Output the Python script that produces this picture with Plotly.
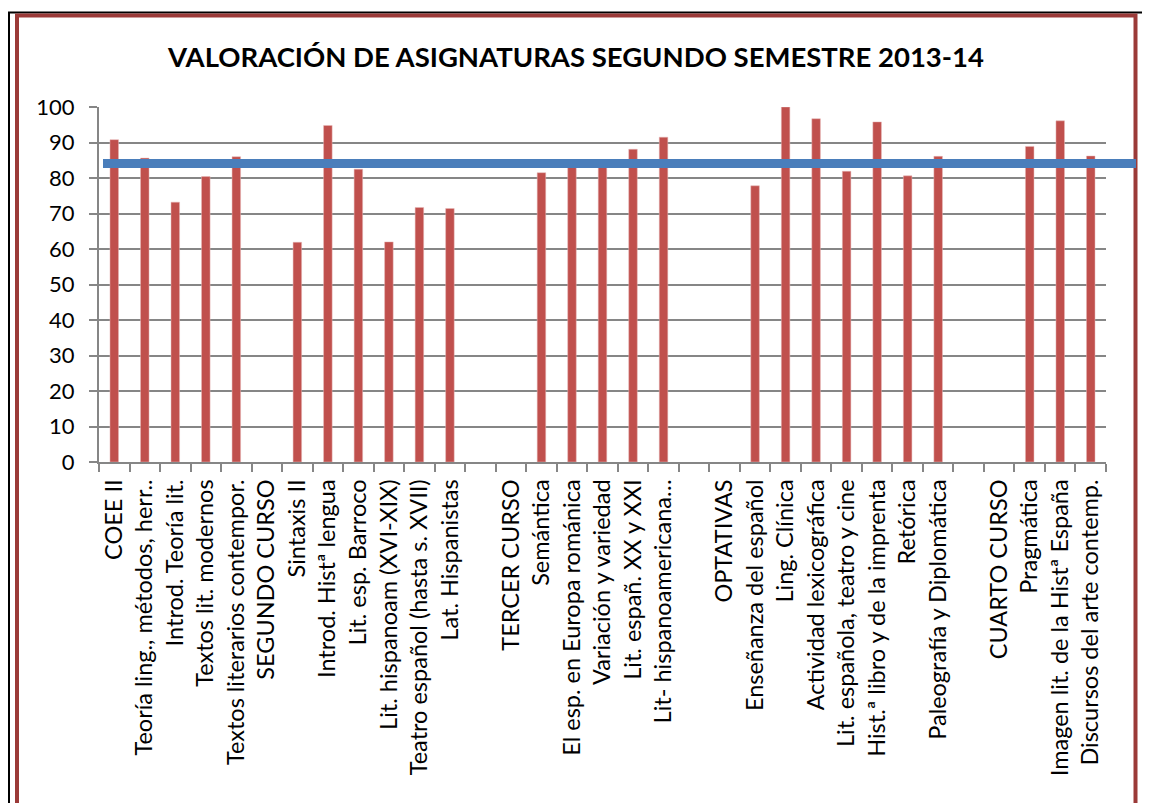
import plotly.graph_objects as go

asignaturas = [
    "COEE II", "Teoría ling., métodos, herr..", "Introd. Teoría lit.", "Textos lit. modernos",
    "Textos literarios contempor.", "SEGUNDO CURSO", "Sintaxis II", "Introd. Histª lengua",
    "Lit. esp. Barroco", "Lit. hispanoam (XVI-XIX)", "Teatro español (hasta s. XVII)",
    "Lat. Hispanistas", " ", "TERCER CURSO", "Semántica", "El esp. en Europa románica",
    "Variación y variedad", "Lit. españ. XX y XXI", "Lit- hispanoamericana…", "  ",
    "OPTATIVAS", "Enseñanza del español", "Ling. Clínica", "Actividad lexicográfica",
    "Lit. española, teatro y cine", "Hist.ª libro y de la imprenta", "Retórica",
    "Paleografía y Diplomática", "   ", "CUARTO CURSO", "Pragmática",
    "Imagen lit. de la Histª España", "Discursos del arte contemp.",
]
valoracion = [
    90.8, 85.6, 73.2, 80.4, 86.0, None, 61.9, 94.8, 82.5, 62.0, 71.7, 71.4, None, None,
    81.5, 84.0, 84.0, 88.1, 91.5, None, None, 77.8, 100.0, 96.7, 81.9, 95.8, 80.6, 86.1,
    None, None, 88.9, 96.1, 86.2,
]
media = 84.1

# la pagina html deja 8px de margen en el body
OFF = 8
W, H = 1150 - OFF, 803 - OFF
L, R, T, B = 99 - OFF, 1106 - OFF, 107 - OFF, 462 - OFF


def px_x(p):
    return (p - OFF - L) / (R - L)


def px_y(p):
    return (B - (p - OFF)) / (B - T)


fig = go.Figure()
fig.add_trace(go.Bar(x=asignaturas, y=valoracion, marker_color="#C0504D",
                     marker_line=dict(color="#E6B9B8", width=0.5)))

# marco negro y borde rojo
fig.add_shape(type="rect", xref="paper", yref="paper", x0=px_x(9), x1=px_x(1170),
              y0=px_y(830), y1=px_y(12.5), line=dict(color="black", width=2))
fig.add_shape(type="rect", xref="paper", yref="paper", x0=px_x(17), x1=px_x(1135.5),
              y0=px_y(840), y1=px_y(15.5), line=dict(color="#9B3A38", width=4))
# linea de la media
fig.add_shape(type="line", xref="paper", yref="y", x0=px_x(103), x1=px_x(1136),
              y0=media, y1=media, line=dict(color="#4A7EBB", width=9))

fig.update_layout(
    width=W, height=H,
    margin=dict(l=L, r=W - R, t=T, b=H - B, pad=0),
    plot_bgcolor="white", paper_bgcolor="white",
    bargap=0.72, showlegend=False,
    font=dict(family="Lato", color="black"),
    title=dict(text="<b>VALORACIÓN DE ASIGNATURAS SEGUNDO SEMESTRE 2013-14</b>",
               x=(576 - OFF) / W, xanchor="center", y=1 - (57 - OFF) / H, yanchor="middle",
               font=dict(family="Lato", size=27.5, color="black")),
)
fig.update_xaxes(type="category", tickangle=-90, tickson="boundaries", ticks="outside",
                 ticklen=8, tickwidth=2, tickcolor="#868686", showline=True,
                 linecolor="#868686", linewidth=2, showgrid=False, automargin=False,
                 tickfont=dict(size=23.5, family="Lato"), ticklabelstandoff=6)
fig.update_yaxes(range=[0, 100], dtick=10, ticks="outside", ticklen=8, tickwidth=2,
                 tickcolor="#868686", showline=True, linecolor="#868686", linewidth=2,
                 showgrid=True, gridcolor="#868686", gridwidth=2, zeroline=False,
                 automargin=False, tickfont=dict(size=22, family="Lato"),
                 ticklabelstandoff=10)

fig.write_html("out.html")
